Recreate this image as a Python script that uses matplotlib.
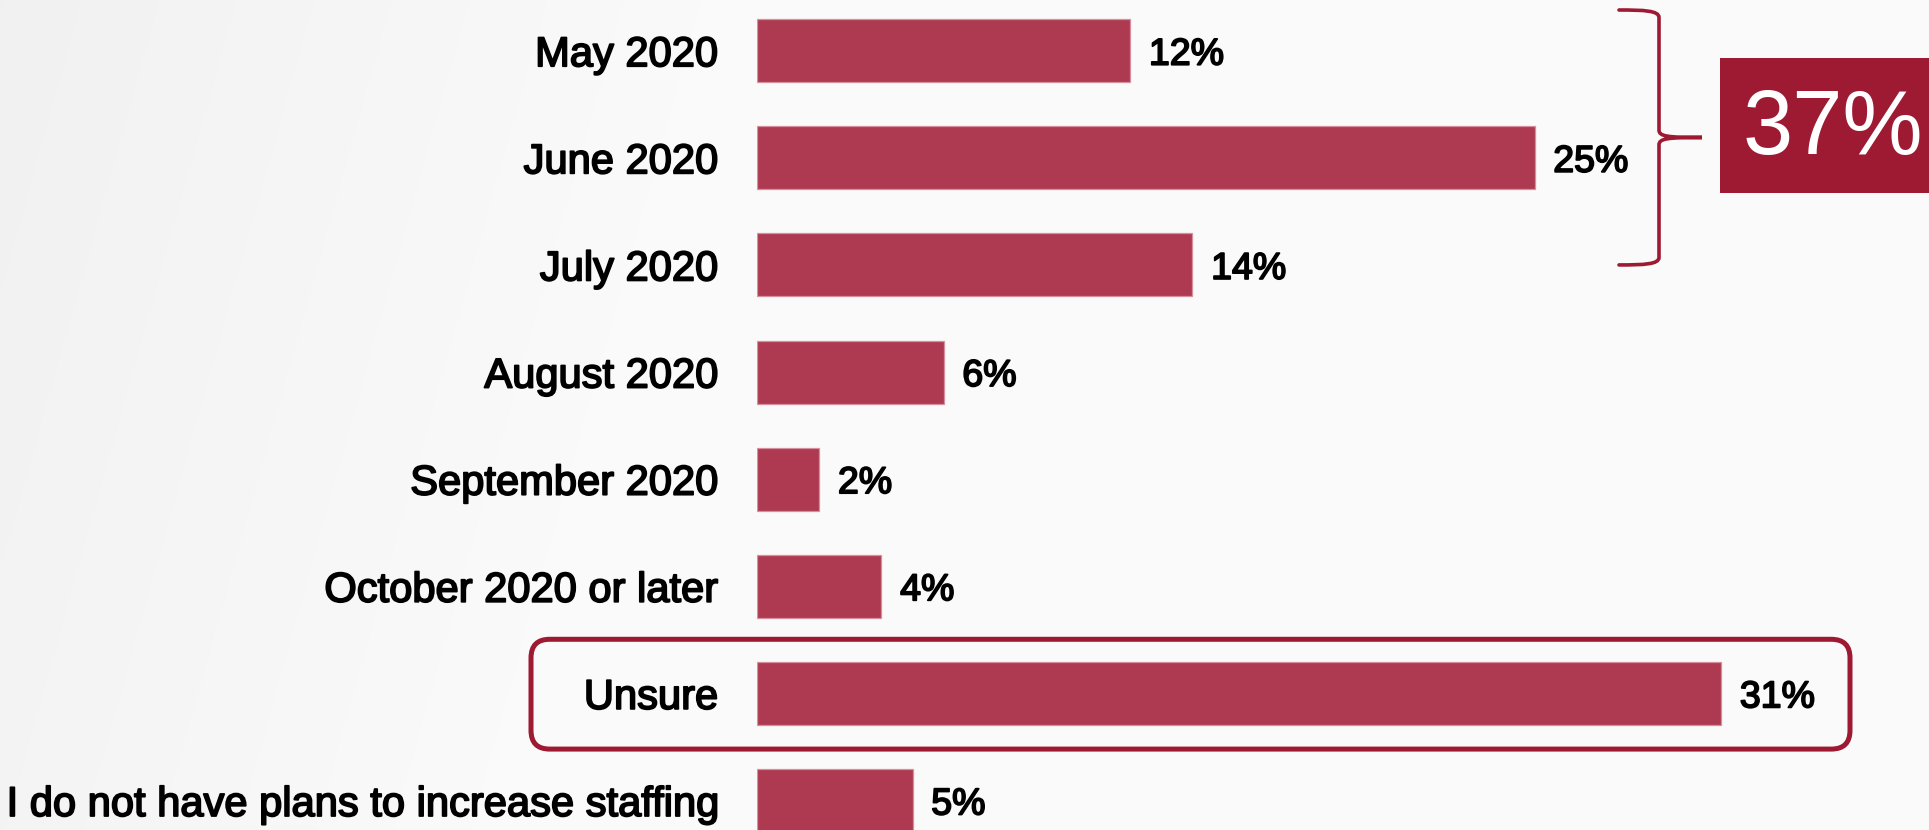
import numpy as np
import matplotlib
matplotlib.use("Agg")
import matplotlib.pyplot as plt
import matplotlib.patheffects as pe
from matplotlib.patches import FancyBboxPatch, PathPatch, Rectangle
from matplotlib.path import Path

# Survey answers: when do you expect to increase staffing?
categories = [
    "May 2020",
    "June 2020",
    "July 2020",
    "August 2020",
    "September 2020",
    "October 2020 or later",
    "Unsure",
    "I do not have plans to increase staffing",
]
shares = [12, 25, 14, 6, 2, 4, 31, 5]
headline_label = "37%"
highlight_row = "Unsure"

BAR = "#ad3a50"
BAR_EDGE = "#d88e9d"
ACCENT = "#9e1a33"
FONT = "Liberation Sans"
heavy = [pe.withStroke(linewidth=1.3, foreground="black")]

W, H, DPI = 1929, 830, 100
fig = plt.figure(figsize=(W / DPI, H / DPI), dpi=DPI)

# soft grey backdrop, a little darker toward the left
bg = fig.add_axes([0, 0, 1, 1], zorder=-5)
xx, yy = np.meshgrid(np.linspace(0, 1, 400), np.linspace(0, 1, 200))
t = np.clip((xx + 0.12 * yy) / 0.38, 0, 1)
lum = 0.945 + 0.037 * t
bg.imshow(np.dstack([lum, lum, lum]), extent=[0, 1, 0, 1], aspect="auto",
          origin="upper", interpolation="bilinear")
bg.set_axis_off()

# plotting area: bars start at x=757 px, rows are 107 px apart
left_px = 757
ax = fig.add_axes([left_px / W, 0, 1 - left_px / W, 1])
ax.patch.set_alpha(0)
px_per_pct = 31.1
row_px = 107.1
ax.set_xlim(0, (W - left_px) / px_per_pct)
ax.set_ylim(7 + 29.5 / row_px, -50.7 / row_px)

y = np.arange(len(categories))
ax.barh(y, shares, height=63 / row_px, color=BAR, edgecolor=BAR_EDGE,
        linewidth=0.9, zorder=3)

for yi, v in zip(y, shares):
    ax.annotate(f"{v}%", xy=(v, yi), xytext=(13.5, 0), textcoords="offset points",
                ha="left", va="center_baseline", fontsize=27, fontfamily=FONT,
                color="black", path_effects=heavy, zorder=4)

ax.set_yticks(y)
ax.set_yticklabels(categories, fontsize=30, fontfamily=FONT)
for lbl in ax.get_yticklabels():
    lbl.set_path_effects(heavy)
ax.tick_params(axis="y", length=0, pad=28)
ax.tick_params(axis="x", bottom=False, labelbottom=False)
for s in ax.spines.values():
    s.set_visible(False)

# rounded frame around the "Unsure" row
hy = categories.index(highlight_row)
fx0, fx1 = -(left_px - 531) / px_per_pct, (1850 - left_px) / px_per_pct
fy0, fy1 = hy - 0.505, hy + 0.52
aspect = px_per_pct / row_px
frame = FancyBboxPatch((fx0, fy0), fx1 - fx0, fy1 - fy0,
                       boxstyle="round,pad=0,rounding_size=0.6",
                       mutation_aspect=aspect, facecolor="none",
                       edgecolor=ACCENT, linewidth=3.6, clip_on=False, zorder=5)
ax.add_patch(frame)

# curly brace next to the first months
bx0, bx1, bx2 = (1619 - left_px) / px_per_pct, (1659 - left_px) / px_per_pct, (1702 - left_px) / px_per_pct
by0, by1 = -0.38, 2.0
bym = (by0 + by1) / 2
dx = 0.25
dy = 0.07
verts = [
    (bx0, by0),
    (bx0 + 0.8, by0), (bx1, by0 + 0.005), (bx1, by0 + dy),
    (bx1, bym - dy),
    (bx1, bym - 0.01), (bx1 + dx, bym), (bx2, bym),
    (bx1 + dx, bym), (bx1, bym + 0.01), (bx1, bym + dy),
    (bx1, by1 - dy),
    (bx1, by1 - 0.005), (bx0 + 0.8, by1), (bx0, by1),
]
codes = ([Path.MOVETO] + [Path.CURVE4] * 3 + [Path.LINETO] + [Path.CURVE4] * 3
         + [Path.CURVE4] * 3 + [Path.LINETO] + [Path.CURVE4] * 3)
ax.add_patch(PathPatch(Path(verts, codes), facecolor="none", edgecolor=ACCENT,
                       linewidth=2.6, capstyle="round", clip_on=False, zorder=5))

# headline box
box_x0 = (1720 - left_px) / px_per_pct
box_y0, box_y1 = (57.7 - 50.7) / row_px, (193 - 50.7) / row_px
ax.add_patch(Rectangle((box_x0, box_y0), ax.get_xlim()[1] - box_x0 + 1, box_y1 - box_y0,
                       facecolor=ACCENT, edgecolor="none", clip_on=False, zorder=5))
ax.text((1833 - left_px) / px_per_pct, (box_y0 + box_y1) / 2 + 0.05, headline_label,
        ha="center", va="center", fontsize=65, fontfamily=FONT, color="white", zorder=6)

fig.savefig("out.png", dpi=DPI)
